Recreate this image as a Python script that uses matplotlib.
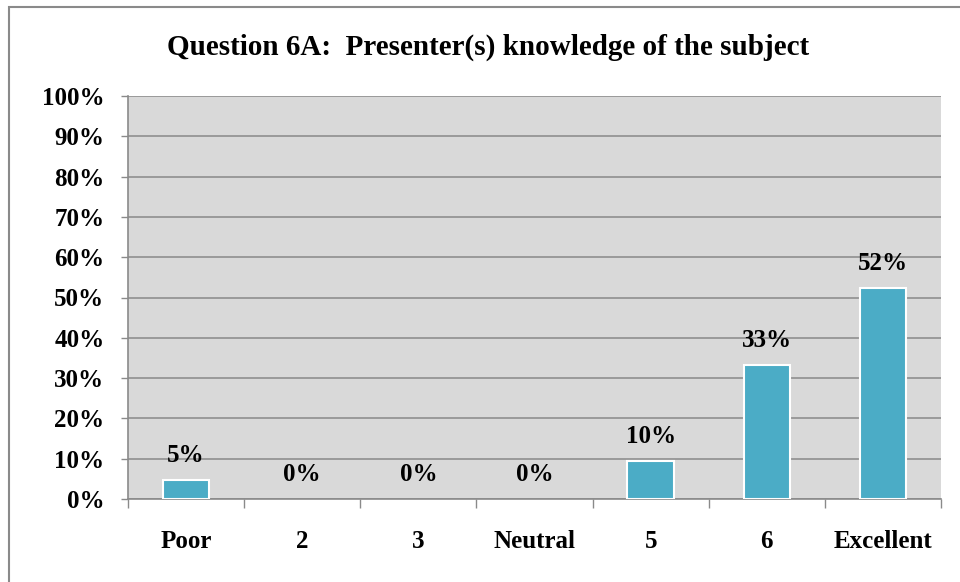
import matplotlib
matplotlib.use("Agg")
import matplotlib.pyplot as plt
from matplotlib.patches import Rectangle

categories = ["Poor", "2", "3", "Neutral", "5", "6", "Excellent"]
values = [4.76, 0, 0, 0, 9.52, 33.33, 52.38]
yticks = [0, 10, 20, 30, 40, 50, 60, 70, 80, 90, 100]
ytick_labels = [f"{t}%" for t in yticks]
title = "Question 6A:  Presenter(s) knowledge of the subject"

plt.rcParams['font.family'] = ['Liberation Serif', 'DejaVu Serif']

W, H = 960, 582
fig = plt.figure(figsize=(W/100, H/100), dpi=100)
fig.patch.set_facecolor("white")

# outer border
fig.patches.append(Rectangle((9/W, -0.1), 1.2, 1 - 7/H + 0.1, transform=fig.transFigure,
                             fill=False, edgecolor="#8a8a8a", linewidth=1.5))

left, right, top, bottom = 128, 941, 96, 499
ax = fig.add_axes([left/W, 1 - bottom/H, (right-left)/W, (bottom-top)/H])
ax.set_facecolor("#d9d9d9")

x = list(range(len(categories)))
edges = ["white" if v > 0 else "none" for v in values]
ax.bar(x, values, width=0.4, color="#4bacc6", edgecolor=edges, linewidth=1.5, zorder=3)
for xi, v in zip(x, values):
    ax.annotate(f"{round(v)}%", (xi, v), xytext=(0, 13), textcoords="offset points",
                ha="center", va="baseline", fontsize=18, fontweight="bold", zorder=4)

ax.set_xlim(-0.5, len(categories) - 0.5)
ax.set_ylim(0, 100)
ax.set_yticks(yticks)
ax.set_yticklabels(ytick_labels, fontsize=18, fontweight="bold")
ax.set_xticks(x)
ax.set_xticklabels(categories, fontsize=18, fontweight="bold")
ax.set_xticks([i + 0.5 for i in range(-1, len(categories))], minor=True)
ax.tick_params(axis="x", which="major", length=0, pad=22.5)
ax.tick_params(axis="x", which="minor", length=6.5, width=1, color="#8a8a8a", direction="out")
ax.tick_params(axis="y", length=5, width=1, color="#8a8a8a", pad=12)

ax.grid(axis="y", color="#8f8f8f", linewidth=1.2, zorder=1)
ax.set_axisbelow(True)
for s in ["top", "right"]:
    ax.spines[s].set_visible(False)
for s in ["left", "bottom"]:
    ax.spines[s].set_color("#8a8a8a")
    ax.spines[s].set_linewidth(1.2)

fig.text(488/W, 1 - 47/H, title, ha="center", va="center", fontsize=21, fontweight="bold")

fig.savefig("out.png", dpi=100)
